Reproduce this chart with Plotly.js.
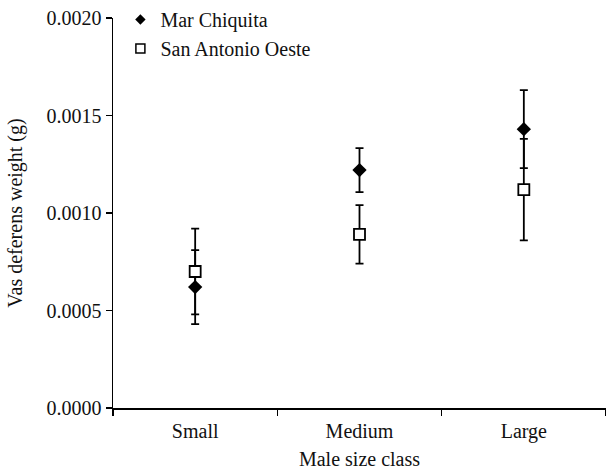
<!DOCTYPE html>
<html>
<head>
<meta charset="utf-8">
<script src="https://cdn.plot.ly/plotly-3.0.1.min.js"></script>
<style>html,body{margin:0;padding:0;background:#fff;}</style>
</head>
<body>
<div id="chart" style="width:606px;height:472px;"></div>
<script>
const categories = ["Small", "Medium", "Large"];
const marChiquita = [0.00062, 0.00122, 0.00143];
const marChiquitaErr = [0.00019, 0.000113, 0.00020];
const sanAntonio = [0.00070, 0.00089, 0.00112];
const sanAntonioErr = [0.00022, 0.00015, 0.00026];
const yTicks = [0, 0.0005, 0.0010, 0.0015, 0.0020];

const fontFam = 'Liberation Serif, Times New Roman, DejaVu Serif, serif';

const traces = [
  {
    type: 'scatter', mode: 'markers', name: 'Mar Chiquita', showlegend: false,
    x: categories, y: marChiquita,
    error_y: {type: 'data', array: marChiquitaErr, visible: true, color: '#000', thickness: 1.8, width: 4},
    marker: {symbol: 'diamond', size: 11, color: '#000', line: {width: 0}}
  },
  {
    type: 'scatter', mode: 'markers', name: 'San Antonio Oeste', showlegend: false,
    x: categories, y: sanAntonio,
    error_y: {type: 'data', array: sanAntonioErr, visible: true, color: '#000', thickness: 1.8, width: 4},
    marker: {symbol: 'square', size: 11, color: '#fff', line: {width: 1.8, color: '#000'}}
  },
  {
    type: 'scatter', mode: 'markers', name: 'Mar Chiquita', showlegend: true,
    x: [null], y: [null],
    marker: {symbol: 'diamond', size: 8, color: '#000', line: {width: 0}}
  },
  {
    type: 'scatter', mode: 'markers', name: 'San Antonio Oeste', showlegend: true,
    x: [null], y: [null],
    marker: {symbol: 'square', size: 9, color: '#fff', line: {width: 1.5, color: '#000'}}
  }
];

const layout = {
  width: 606, height: 472,
  margin: {l: 113, r: 0, t: 17, b: 64},
  paper_bgcolor: '#fff', plot_bgcolor: '#fff',
  font: {family: fontFam, size: 20, color: '#111'},
  showlegend: true,
  legend: {
    x: 0.015, y: 1.045, xanchor: 'left', yanchor: 'top',
    bgcolor: 'rgba(0,0,0,0)', borderwidth: 0,
    font: {family: fontFam, size: 20, color: '#111'},
    itemwidth: 30
  },
  xaxis: {
    type: 'category', categoryorder: 'array', categoryarray: categories,
    range: [-0.5, 2.5],
    showline: true, linecolor: '#000', linewidth: 1.5,
    ticks: 'outside', ticklen: 6, tickwidth: 1.5, tickcolor: '#000',
    tickson: 'boundaries', ticklabelstandoff: 4,
    showgrid: false, zeroline: false,
    tickfont: {family: fontFam, size: 20, color: '#111'},
    title: {text: 'Male size class', font: {family: fontFam, size: 20, color: '#111'}, standoff: 10}
  },
  yaxis: {
    range: [0, 0.002],
    tickvals: yTicks, tickformat: '.4f',
    showline: true, linecolor: '#000', linewidth: 1.5,
    ticks: 'outside', ticklen: 6, tickwidth: 1.5, tickcolor: '#000',
    showgrid: false, zeroline: false,
    tickfont: {family: fontFam, size: 20, color: '#111'},
    title: {text: 'Vas deferens weight (g)', font: {family: fontFam, size: 20, color: '#111'}, standoff: 18}
  }
};

Plotly.newPlot('chart', traces, layout, {displayModeBar: false, staticPlot: true});
</script>
</body>
</html>
